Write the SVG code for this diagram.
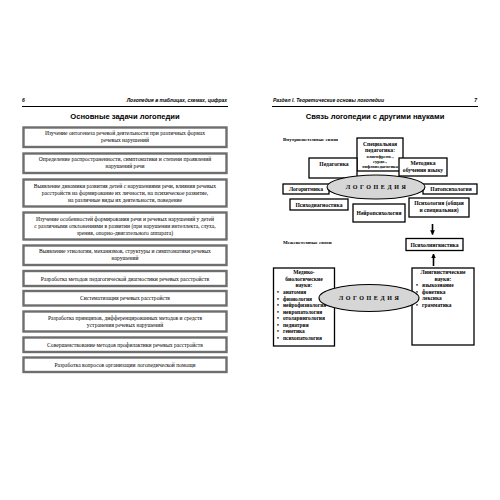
<svg xmlns="http://www.w3.org/2000/svg" width="500" height="500" viewBox="0 0 500 500">
<defs>
<style>
.hdr{font-family:"Liberation Sans",Arial,sans-serif;font-size:5px;font-weight:bold;font-style:italic;fill:#000}
.ttl{font-family:"Liberation Sans",Arial,sans-serif;font-size:7.6px;font-weight:bold;fill:#000;text-anchor:middle}
.gb{fill:#fff;stroke:#6e6e6e;stroke-width:2.4}
.gt{font-family:"Liberation Serif","Times New Roman",serif;font-size:5.6px;fill:#000;text-anchor:middle}
.bx{fill:#fff;stroke:#000;stroke-width:1.3}
.bt{font-family:"Liberation Serif","Times New Roman",serif;font-size:5.6px;font-weight:bold;fill:#000;text-anchor:middle}
.st{font-family:"Liberation Serif","Times New Roman",serif;font-size:4.6px;font-weight:bold;fill:#000;text-anchor:middle}
.lt{font-family:"Liberation Serif","Times New Roman",serif;font-size:5.4px;font-weight:bold;fill:#000}
.el{fill:#d6d6d6;stroke:#000;stroke-width:1.1}
.et{font-family:"Liberation Serif","Times New Roman",serif;font-size:6px;font-weight:bold;fill:#000;text-anchor:middle;letter-spacing:2.6px}
.ar{stroke:#000;stroke-width:1.6;fill:none}
</style>
<marker id="ah" viewBox="0 0 10 10" refX="9" refY="5" markerWidth="3" markerHeight="3" orient="auto" markerUnits="strokeWidth">
<path d="M0,0 L10,5 L0,10 z" fill="#000"/>
</marker>
</defs>
<rect x="0" y="0" width="500" height="500" fill="#fff"/>

<!-- Left page header -->
<g id="left-header">
<text class="hdr" x="22" y="102">6</text>
<text class="hdr" x="227" y="102" text-anchor="end">Логопедия в таблицах, схемах, цифрах</text>
<line x1="22" y1="106.5" x2="228" y2="106.5" stroke="#000" stroke-width="1.2"/>
<text class="ttl" x="125" y="119">Основные задачи логопедии</text>
</g>

<g id="task1"><rect class="gb" x="23.5" y="127.5" width="203" height="19.5"/>
<text class="gt" x="125" y="135">Изучение онтогенеза речевой деятельности при различных формах</text>
<text class="gt" x="125" y="142">речевых нарушений</text></g>

<g id="task2"><rect class="gb" x="23.5" y="153.5" width="203" height="19.5"/>
<text class="gt" x="125" y="161">Определение распространенности, симптоматики и степени проявлений</text>
<text class="gt" x="125" y="168">нарушений речи</text></g>

<g id="task3"><rect class="gb" x="23.5" y="179.5" width="203" height="27"/>
<text class="gt" x="125" y="188">Выявление динамики развития детей с нарушениями речи, влияния речевых</text>
<text class="gt" x="125" y="195">расстройств на формирование их личности, на психическое развитие,</text>
<text class="gt" x="125" y="202">на различные виды их деятельности, поведение</text></g>

<g id="task4"><rect class="gb" x="23.5" y="212.5" width="203" height="27"/>
<text class="gt" x="125" y="221">Изучение особенностей формирования речи и речевых нарушений у детей</text>
<text class="gt" x="125" y="228">с различными отклонениями в развитии (при нарушении интеллекта, слуха,</text>
<text class="gt" x="125" y="235">зрения, опорно-двигательного аппарата)</text></g>

<g id="task5"><rect class="gb" x="23.5" y="245.5" width="203" height="19.5"/>
<text class="gt" x="125" y="253">Выявление этиологии, механизмов, структуры и симптоматики речевых</text>
<text class="gt" x="125" y="260">нарушений</text></g>

<g id="task6"><rect class="gb" x="23.5" y="271" width="203" height="15"/>
<text class="gt" x="125" y="280.5">Разработка методов педагогической диагностики речевых расстройств</text></g>

<g id="task7"><rect class="gb" x="23.5" y="291" width="203" height="14.5"/>
<text class="gt" x="125" y="300">Систематизация речевых расстройств</text></g>

<g id="task8"><rect class="gb" x="23.5" y="311.5" width="203" height="20"/>
<text class="gt" x="125" y="319.5">Разработка принципов, дифференцированных методов и средств</text>
<text class="gt" x="125" y="326.5">устранения речевых нарушений</text></g>

<g id="task9"><rect class="gb" x="23.5" y="337.5" width="203" height="14.5"/>
<text class="gt" x="125" y="346.5">Совершенствование методов профилактики речевых расстройств</text></g>

<g id="task10"><rect class="gb" x="23.5" y="357.5" width="203" height="14.5"/>
<text class="gt" x="125" y="366.5">Разработка вопросов организации логопедической помощи</text></g>

<!-- Right page header -->
<g id="right-header">
<text class="hdr" x="273" y="102">Раздел I. Теоретические основы логопедии</text>
<text class="hdr" x="477" y="102" text-anchor="end">7</text>
<line x1="272" y1="106.5" x2="478" y2="106.5" stroke="#000" stroke-width="1.2"/>
<text class="ttl" x="375" y="119">Связь логопедии с другими науками</text>
<text class="lt" x="283" y="141" style="font-size:5px">Внутрисистемные связи</text>
<text class="lt" x="283" y="244" style="font-size:5px">Межсистемные связи</text>
</g>

<g id="spec-ped"><rect class="bx" x="357" y="138" width="46" height="33"/>
<text class="bt" x="380" y="146">Специальная</text>
<text class="bt" x="380" y="152">педагогика:</text>
<text class="st" x="380" y="157.5">олигофрено-,</text>
<text class="st" x="380" y="162.5">сурдо-,</text>
<text class="st" x="380" y="167.5">тифлопедагогика</text></g>

<g id="pedagogika"><rect class="bx" x="309" y="158" width="48" height="20"/>
<text class="bt" x="334" y="166">Педагогика</text></g>

<g id="metodika"><rect class="bx" x="399" y="158" width="48" height="18"/>
<text class="bt" x="423" y="165">Методика</text>
<text class="bt" x="423" y="172">обучения языку</text></g>

<g id="logoritmika"><rect class="bx" x="283" y="184" width="46" height="10"/>
<text class="bt" x="306" y="191">Логоритмика</text></g>

<g id="patopsy"><rect class="bx" x="423" y="184" width="54" height="10"/>
<text class="bt" x="451" y="191">Патопсихология</text></g>

<g id="psychodiag"><rect class="bx" x="290" y="199" width="58" height="11"/>
<text class="bt" x="319" y="206.5">Психодиагностика</text></g>

<g id="neuropsy"><rect class="bx" x="353" y="204" width="52" height="18"/>
<text class="bt" x="379" y="215">Нейропсихология</text></g>

<g id="psychology"><rect class="bx" x="409" y="198" width="60" height="19"/>
<text class="bt" x="439" y="205">Психология (общая</text>
<text class="bt" x="439" y="212">и специальная)</text></g>

<g id="logopedia-1"><ellipse class="el" cx="376" cy="187" rx="49" ry="12"/>
<text class="et" x="377" y="189">ЛОГОПЕДИЯ</text></g>

<g id="psycholing"><rect class="bx" x="406" y="238.5" width="57" height="12"/>
<text class="bt" x="434.5" y="246.5">Психолингвистика</text></g>

<g id="med-bio"><rect class="bx" x="273.5" y="268" width="61" height="78"/>
<text class="bt" x="304" y="274">Медико-</text>
<text class="bt" x="304" y="280.5">биологические</text>
<text class="bt" x="304" y="287">науки:</text>
<g class="lt">
<text x="277" y="294">•</text><text x="283" y="294">анатомия</text>
<text x="277" y="300.5">•</text><text x="283" y="300.5">физиология</text>
<text x="277" y="307">•</text><text x="283" y="307">нейрофизиология</text>
<text x="277" y="313.5">•</text><text x="283" y="313.5">невропатология</text>
<text x="277" y="320">•</text><text x="283" y="320">отоларингология</text>
<text x="277" y="326.5">•</text><text x="283" y="326.5">педиатрия</text>
<text x="277" y="333">•</text><text x="283" y="333">генетика</text>
<text x="277" y="339.5">•</text><text x="283" y="339.5">психопатология</text>
</g></g>

<g id="ling"><rect class="bx" x="412" y="268" width="62" height="77"/>
<text class="bt" x="443" y="274">Лингвистические</text>
<text class="bt" x="443" y="280.5">науки:</text>
<g class="lt">
<text x="416" y="287">•</text><text x="422" y="287">языкознание</text>
<text x="416" y="293.5">•</text><text x="422" y="293.5">фонетика</text>
<text x="416" y="300">•</text><text x="422" y="300">лексика</text>
<text x="416" y="306.5">•</text><text x="422" y="306.5">грамматика</text>
</g></g>

<g id="logopedia-2"><ellipse class="el" cx="369" cy="298" rx="50" ry="13.5"/>
<text class="et" x="370" y="300">ЛОГОПЕДИЯ</text></g>

<g id="connectors">
<line class="ar" x1="432.5" y1="224" x2="432.5" y2="234.5" marker-end="url(#ah)"/>
<line class="ar" x1="433.5" y1="266" x2="433.5" y2="254" marker-end="url(#ah)"/>
</g>
</svg>
